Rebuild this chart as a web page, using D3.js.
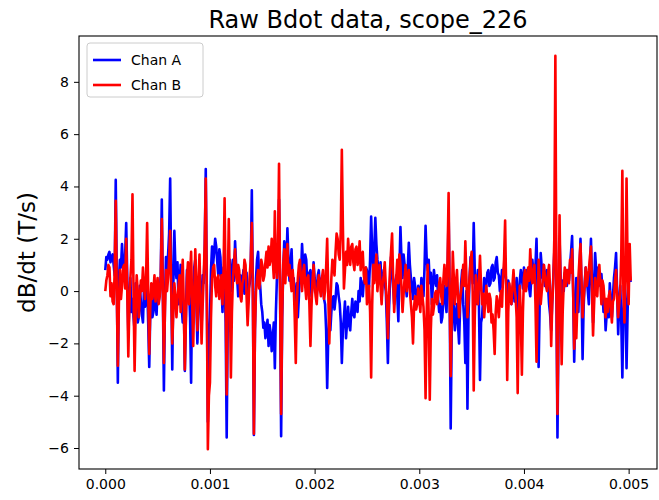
<!DOCTYPE html>
<html>
<head>
<meta charset="utf-8">
<script src="https://cdn.jsdelivr.net/npm/d3@7"></script>
<style>
  body { margin: 0; background: #fff; }
  text { font-family: "DejaVu Sans", sans-serif; }
</style>
</head>
<body>
<div id="chart"></div>
<script>
// sample spacing of the scope trace (seconds)
var tStep = 0.00001;

var chanA = [
  0.8, 1.3, 1.2, 1.4, 1.5, 1.1, 1.3, 1.4, 1.0, 0.6, 4.25, 0.5, -3.5, 0.4, 1.2, 0.9, 1.8, 1.0, 0.6, 1.4,
  2.6, 0.5, -1.6, -0.6, 0.5, -0.8, -0.3, -1.0, -1.5, 0.3, -0.2, -1.2, -1.0, 0.2, -0.4, -0.9, -1.2, 0.1, -0.6, -0.2,
  0.3, -1.2, -2.9, -0.8, -0.2, -1.0, -0.8, 0.0, -0.5, -0.9, 0.2, -0.4, -0.1, 0.6, 3.5, 0.0, -3.8, -0.5, 1.3, 0.7,
  1.4, 2.2, 4.3, 0.6, -3.0, 0.2, 2.3, 0.9, 0.5, 1.1, -0.5, 0.3, 1.0, -0.6, -1.2, -0.4, -3.05, -1.0, 0.8, -0.3,
  0.2, -1.0, -3.5, 0.1, -0.5, 0.9, 1.2, -0.4, -2.0, -0.6, 0.8, -0.3, -1.5, 0.6, 0.3, 1.5, 4.67, 0.0, -5.0, -2.0,
  -1.0, 0.8, 1.7, 1.0, 1.5, 2.0, 1.7, 1.1, 0.6, 1.6, 1.3, 0.2, -0.8, 0.9, 0.5, -1.2, -5.6, -1.0, 0.3, 1.2,
  0.0, 0.7, 1.2, 0.4, 1.9, 1.0, 0.5, -0.2, 0.2, 0.6, -0.3, 0.4, 0.8, -0.1, 0.2, 0.7, -0.6, 0.1, 0.3, 0.9,
  3.85, 0.0, -5.5, -1.5, 0.5, 1.2, 1.5, 0.6, 0.2, -0.5, -0.8, -1.4, -1.2, -1.8, -1.5, -1.1, -2.1, -1.3, -1.6, -2.3,
  -1.8, -1.2, -2.95, -0.8, 0.5, 1.8, 3.5, 0.0, -5.55, -1.0, 0.8, 1.9, 1.5, 0.9, 2.4, 1.2, 0.4, 1.0, 1.6, 0.2,
  0.5, -0.3, -0.5, 0.3, -1.0, -0.2, 1.0, 0.6, 1.8, 1.0, 0.5, 1.4, 1.2, 0.3, 0.0, 0.7, 0.8, -0.2, 0.2, 1.1,
  0.5, 0.1, -0.2, 0.6, 0.8, 0.2, 0.0, 0.5, 0.3, -0.3, -0.5, -1.5, -3.7, -1.8, -1.0, -1.5, -0.8, -0.3, -0.2, -0.7,
  -0.3, 0.3, 0.2, -0.2, -0.5, -1.2, -2.75, -1.5, -1.0, -0.4, -1.8, -1.2, -0.6, -1.3, -1.5, -0.8, -0.3, -0.9, -1.0, -0.4,
  -0.5, -0.8, 0.0, -0.4, 0.5, 0.1, -0.2, 0.4, 0.3, 0.9, 0.8, -0.1, 0.2, 1.2, 2.85, 1.5, 0.5, 1.6, 2.8, 1.8,
  1.2, 0.8, 0.5, 1.1, -0.3, 0.4, 0.8, 0.3, 0.0, -1.2, -2.75, -0.8, 0.3, 1.3, 1.0, 0.2, -0.5, 0.3, 0.6, -0.2,
  -1.15, 0.8, 2.45, 1.2, 0.5, 1.4, 1.0, 0.3, -0.2, 0.9, 1.85, 1.0, 0.5, 0.1, -0.3, 0.5, 0.2, -0.2, -0.5, 0.2,
  0.0, -0.4, 0.5, 0.1, -0.2, 0.9, 2.5, 1.3, 0.8, 1.2, 0.3, 0.7, -0.5, 0.2, 0.8, 0.4, 0.2, 0.6, -0.3, -0.8,
  -0.5, -1.2, -1.0, -0.3, 0.2, -0.4, -0.8, 0.5, 3.0, 0.0, -5.25, -1.5, 0.0, -0.6, -1.5, -0.9, -0.5, -1.3, -2.0, -0.6,
  0.3, 0.8, -0.5, -1.2, -2.75, 0.0, -4.5, -1.0, 0.5, 1.3, 1.0, 0.3, 2.6, 0.8, -0.5, 0.2, 0.8, -0.5, -3.4, -1.2,
  -1.0, -0.2, 0.5, 0.0, 0.2, 0.7, 0.8, 0.2, 0.3, 0.9, 1.0, 0.4, 0.5, 1.1, 1.3, 0.7, 0.6, 0.0, 0.2, 0.8,
  0.5, 0.9, 1.0, 0.3, -0.3, 0.4, 0.2, -0.2, -0.5, 0.1, 0.3, -0.4, 0.0, 0.5, -0.8, -0.2, 0.4, 0.8, 0.5, 0.1,
  0.9, 0.4, 0.3, 0.8, 0.6, 0.1, -0.2, 0.5, 1.2, 0.7, 0.5, 1.0, 2.0, 0.0, -2.9, -0.5, 1.45, 0.9, 0.5, 1.0,
  0.2, 0.6, 0.8, 0.2, -0.5, -0.9, -1.5, -0.4, 0.5, 1.5, 3.35, 0.0, -5.6, -1.5, 2.0, 0.5, -1.0, 0.4, 0.0, 0.7,
  0.5, 0.2, 0.8, 0.4, 1.0, 1.5, 2.1, 0.0, -2.7, -0.8, 0.5, 0.1, -0.8, 0.6, 2.0, 0.0, -2.6, -0.6, 0.3, 0.9,
  0.5, 0.0, -0.5, 0.8, 2.0, 0.4, -1.2, 0.2, 1.45, 0.8, 0.2, 0.9, 0.6, 0.2, 0.65, 0.0, -0.8, -0.3, -1.5, -0.9,
  -0.5, -1.0, 0.3, -0.4, -1.0, -0.2, 0.5, 0.9, 1.45, 0.0, -1.65, -0.5, 0.2, -1.2, -3.3, -0.8, 0.5, -0.5, -2.95, -0.8,
  1.0, 0.6, 0.35
];

var chanB = [
  0.0, 0.4, 0.6, 1.0, 0.9, -0.2, 0.3, -0.4, -0.5, 0.8, 3.45, 0.0, -2.85, -0.5, 0.8, -0.3, 0.2, 0.9, 1.0, 0.1,
  2.0, 0.0, -2.5, -0.6, 0.5, 1.2, 3.7, 0.0, -3.05, -0.8, 0.6, 0.0, -1.0, -0.3, 0.4, 0.0, 0.9, 0.2, -0.3, 0.5,
  2.6, 0.0, -2.4, -0.6, 0.3, -0.3, 0.0, 0.6, -0.4, 0.1, 0.5, -0.5, -0.2, 0.5, 2.75, 0.0, -2.75, -0.8, 0.8, 0.0,
  0.5, 1.2, 2.3, 0.0, -2.0, -0.8, 0.3, -0.2, -1.0, -0.3, 0.2, 0.6, -0.8, 0.3, 1.2, -0.5, -3.0, -1.2, 0.5, 1.1,
  -0.5, 0.6, 1.5, -0.4, -2.1, -0.2, 1.6, 0.2, -1.5, 0.3, 1.4, -0.3, -2.0, -0.6, 0.5, 1.8, 4.3, 0.0, -6.05, -4.0,
  -3.5, -1.0, 0.5, 0.9, 1.0, 0.2, -0.2, 0.5, 0.6, -0.3, 0.0, 0.6, -0.5, 0.8, 3.55, 0.0, -3.95, 0.0, 2.75, 0.0,
  -3.3, -0.8, 0.5, 1.1, 1.6, 0.6, 0.3, 1.0, 0.8, -0.2, -0.4, 0.3, 0.5, 1.2, 1.0, -0.2, -1.3, -0.4, 0.6, 1.2,
  2.6, 0.0, -5.45, -1.5, 0.0, 0.5, 0.8, 0.1, 0.4, 1.2, 1.0, 0.4, 0.6, 1.1, 1.5, 0.9, 1.7, 1.0, 1.2, 2.0,
  1.2, 0.5, 3.05, 1.0, 0.5, 1.5, 4.87, 0.0, -4.7, -1.0, 1.0, 1.6, 0.3, 1.2, 1.8, 0.6, 1.0, 0.4, 0.0, 0.8,
  0.3, -1.0, -2.75, -0.5, 0.5, 1.0, 1.2, 0.4, 0.0, 0.7, 1.0, 0.2, -0.3, 0.5, 0.6, -0.5, -2.1, -0.6, 0.4, 1.0,
  0.2, -0.2, -0.5, 0.3, 0.6, 0.1, -0.2, 0.5, 0.8, -0.3, 0.0, 0.9, 2.0, 0.0, -2.0, -0.5, 0.5, 1.2, 1.0, 0.6,
  1.5, 2.2, 2.0, 1.4, 1.2, 2.3, 5.4, 2.5, 0.1, 0.8, 1.5, 1.0, 2.0, 1.3, 1.0, 1.7, 1.8, 1.1, 0.8, 1.6,
  1.7, 1.0, 1.2, 1.9, 0.8, 1.3, 1.5, 0.6, 0.3, 0.9, -0.5, 0.0, 0.2, -0.8, -3.3, -0.5, 1.0, 0.3, 0.8, 1.4,
  0.0, 0.6, 1.0, 0.2, -0.5, 0.3, 0.6, 1.1, 0.2, -0.5, -1.8, -0.2, 0.8, 1.5, 2.2, 0.5, -0.8, 0.0, 0.5, 1.2,
  0.3, 1.4, 1.0, 0.1, -0.8, -0.1, 0.5, 1.0, 0.0, 0.4, 0.8, 0.0, -0.5, -1.0, -2.0, -0.6, -0.2, -0.7, -0.5, 0.1,
  -0.3, -0.8, 0.2, -0.2, -0.6, -1.5, -4.1, -1.0, 1.0, -1.0, -4.15, -1.5, -0.3, -0.9, -0.6, -0.1, 0.0, -0.5, -0.2, 0.3,
  0.5, -0.2, -0.5, 0.4, 1.0, 0.3, 0.2, 1.2, 3.75, 0.0, -3.25, -0.8, 1.5, 0.5, -0.5, 0.3, 0.8, -0.2, -1.0, -0.3,
  0.0, 0.5, 1.0, 0.2, 1.9, 0.5, -1.0, -0.3, 0.5, 1.1, 1.5, 0.0, -3.8, -1.0, 0.6, 0.0, -0.5, 0.3, 1.35, 0.2,
  -0.5, -0.1, -1.0, -0.4, 0.2, -0.3, -0.8, -0.1, -0.3, -1.2, -0.9, -1.5, -2.4, -0.8, -0.2, -0.6, -1.0, -0.3, 0.0, -0.6,
  0.5, 1.2, 2.7, 0.0, -3.4, -0.8, 0.3, -0.2, -0.5, 0.2, 0.8, 0.1, -0.2, -1.0, -3.9, -1.0, 0.2, -1.0, -3.2, -0.8,
  0.5, 0.8, 0.0, 0.3, 0.9, 0.4, 1.6, 0.8, 0.3, 0.7, 1.0, -0.5, -2.7, -0.5, 1.2, 0.4, -0.5, 0.0, 0.4, 1.0,
  0.6, 0.2, 0.0, 0.7, 1.0, 0.0, -2.1, -0.5, 0.3, 2.0, 9.0, 0.0, -4.7, -1.0, 2.9, 0.0, -2.8, -0.8, 0.3, 0.9,
  0.2, 0.8, 0.75, 0.3, 1.2, 0.7, 1.6, 0.0, -2.2, -0.9, -1.8, -0.5, 0.5, 1.2, 1.8, 0.4, -1.0, -0.3, 0.2, 0.9,
  0.2, 0.5, 0.8, 1.3, 1.7, 0.0, -1.7, -0.5, 0.5, 0.0, -0.2, 0.6, 1.0, 0.3, -0.5, 0.4, 0.2, -0.4, -1.0, -0.3,
  -0.8, -0.2, 0.0, -0.7, -1.2, -0.4, -0.3, 0.4, 0.8, -0.2, -1.0, -0.5, 0.0, 1.5, 4.6, 0.0, -1.2, 0.5, 4.3, 1.0,
  -0.5, 1.8, 0.4
];

var seriesNames = ["Chan A", "Chan B"];
var seriesColors = ["#0000ff", "#ff0000"];
var xTicks = [0, 0.001, 0.002, 0.003, 0.004, 0.005];
var yTicks = [-6, -4, -2, 0, 2, 4, 6, 8];

var width = 659,
  height = 500;
var margin = { top: 36, right: 2, bottom: 31, left: 79 };
var plotW = width - margin.left - margin.right,
  plotH = height - margin.top - margin.bottom;

var series = [chanA, chanB].map(function(vals, k) {
  return {
    name: seriesNames[k],
    color: seriesColors[k],
    values: vals.map(function(v, i) {
      return { t: i * tStep, v: v };
    })
  };
});

// matplotlib style 5% auto margins
var tExt = [0, (chanA.length - 1) * tStep];
var vExt = d3.extent(chanA.concat(chanB));
var tPad = (tExt[1] - tExt[0]) * 0.05,
  vPad = (vExt[1] - vExt[0]) * 0.05;

var x = d3
  .scaleLinear()
  .domain([tExt[0] - tPad, tExt[1] + tPad])
  .range([0, plotW]);
var y = d3
  .scaleLinear()
  .domain([vExt[0] - vPad, vExt[1] + vPad])
  .range([plotH, 0]);

var svg = d3
  .select("#chart")
  .append("svg")
  .attr("width", width)
  .attr("height", height);

svg
  .append("text")
  .attr("x", margin.left + plotW / 2)
  .attr("y", 28)
  .attr("text-anchor", "middle")
  .style("font-size", "24px")
  .text("Raw Bdot data, scope_226");

var g = svg
  .append("g")
  .attr("transform", "translate(" + margin.left + "," + margin.top + ")");

svg
  .append("defs")
  .append("clipPath")
  .attr("id", "clip")
  .append("rect")
  .attr("width", plotW)
  .attr("height", plotH);

var line = d3
  .line()
  .x(function(d) {
    return x(d.t);
  })
  .y(function(d) {
    return y(d.v);
  });

g.append("g")
  .attr("clip-path", "url(#clip)")
  .selectAll(".trace")
  .data(series)
  .enter()
  .append("path")
  .attr("class", "trace")
  .attr("d", function(d) {
    return line(d.values);
  })
  .style("fill", "none")
  .style("stroke", function(d) {
    return d.color;
  })
  .style("stroke-width", 2.6)
  .style("stroke-linejoin", "round");

var xAxis = g
  .append("g")
  .attr("transform", "translate(0," + plotH + ")")
  .call(
    d3
      .axisBottom(x)
      .tickValues(xTicks)
      .tickFormat(d3.format(".3f"))
      .tickSize(5)
      .tickPadding(5)
  );

var yAxis = g.append("g").call(
  d3
    .axisLeft(y)
    .tickValues(yTicks)
    .tickFormat(d3.format("d"))
    .tickSize(5)
    .tickPadding(5)
);

[xAxis, yAxis].forEach(function(a) {
  a.select(".domain").remove();
  a.selectAll("text")
    .style("font-size", "14px")
    .style("font-family", "DejaVu Sans, sans-serif")
    .attr("fill", "#000");
  a.selectAll("line").attr("stroke", "#000").attr("stroke-width", 1);
});

// axes frame
g.append("rect")
  .attr("width", plotW)
  .attr("height", plotH)
  .style("fill", "none")
  .style("stroke", "#000")
  .style("stroke-width", 1.1);

svg
  .append("text")
  .attr("transform", "translate(35," + (margin.top + plotH / 2) + ") rotate(-90)")
  .attr("text-anchor", "middle")
  .style("font-size", "23px")
  .text("dB/dt (T/s)");

// legend
var legend = g.append("g").attr("transform", "translate(8,7)");

legend
  .append("rect")
  .attr("width", 116)
  .attr("height", 54)
  .attr("rx", 3)
  .style("fill", "#fff")
  .style("fill-opacity", 0.8)
  .style("stroke", "#cccccc")
  .style("stroke-width", 1);

var item = legend
  .selectAll(".item")
  .data(series)
  .enter()
  .append("g")
  .attr("class", "item")
  .attr("transform", function(d, i) {
    return "translate(6," + (17 + i * 25) + ")";
  });

item
  .append("line")
  .attr("x1", 0)
  .attr("x2", 28)
  .style("stroke", function(d) {
    return d.color;
  })
  .style("stroke-width", 2.6);

item
  .append("text")
  .attr("x", 38)
  .attr("y", 5)
  .style("font-size", "14px")
  .text(function(d) {
    return d.name;
  });
</script>
</body>
</html>
